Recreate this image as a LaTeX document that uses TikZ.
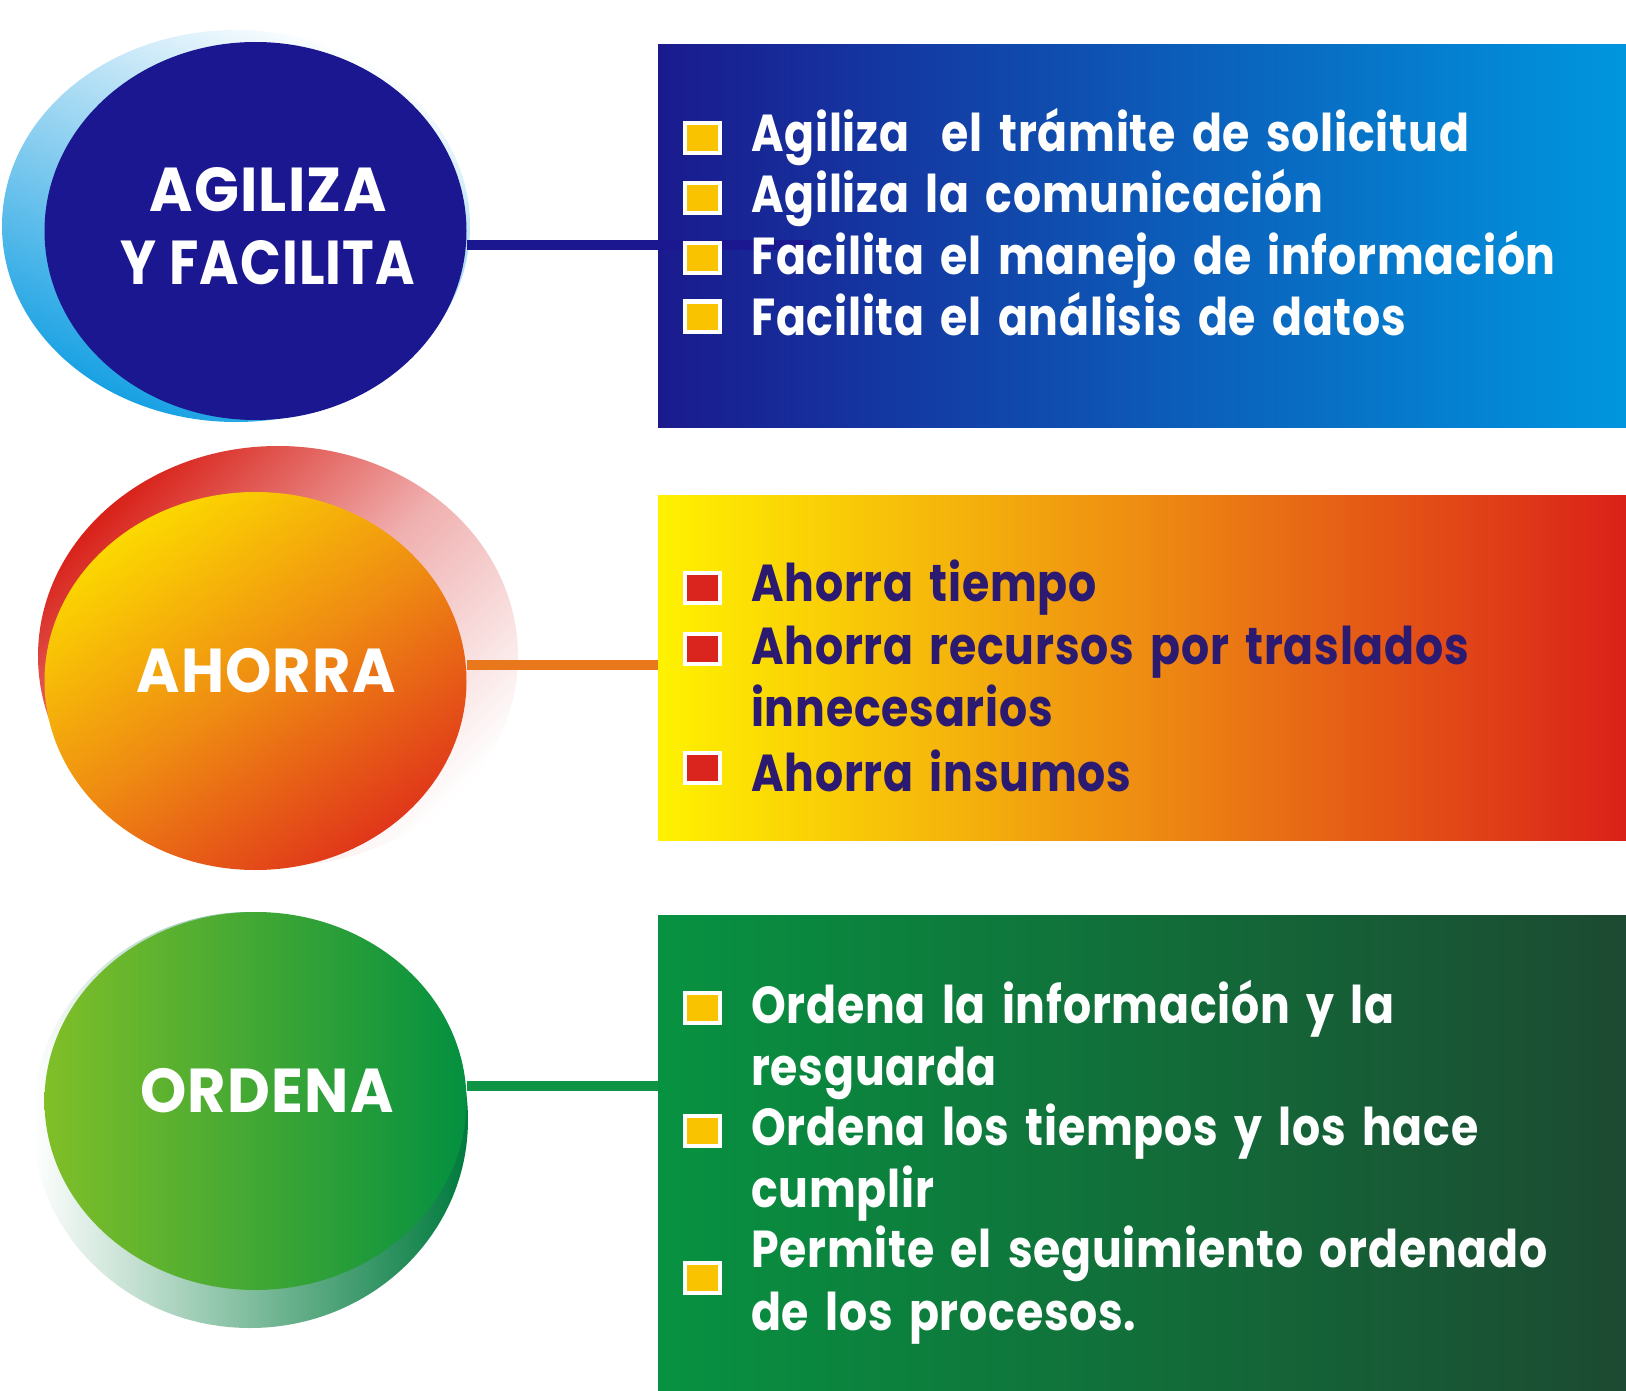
\documentclass[tikz,border=0pt]{standalone}
\usepackage{fontspec}
\usepackage{graphicx}
\usetikzlibrary{shapes.geometric}
\newfontfamily\bodyfont[FakeStretch=0.85, LetterSpace=1.5, WordSpace=1.6]{Poppins}
\newfontfamily\headfont[FakeStretch=0.95, LetterSpace=2]{Poppins}
\definecolor{navy}{HTML}{1B1790}
\definecolor{boxAL}{HTML}{1A1A8E}
\definecolor{boxAR}{HTML}{0096DE}
\definecolor{boxBL}{HTML}{FFF200}
\definecolor{boxBM}{HTML}{EE8C12}
\definecolor{boxBR}{HTML}{DA2119}
\definecolor{boxCL}{HTML}{079241}
\definecolor{boxCR}{HTML}{1C4A32}
\definecolor{txtnavy}{HTML}{2B1A70}
\definecolor{bulY}{HTML}{F9C300}
\definecolor{bulR}{HTML}{D9251D}
\definecolor{lineB}{HTML}{E9781C}
\definecolor{lineC}{HTML}{0E9444}
\definecolor{cBt}{HTML}{FCD900}
\definecolor{cBm}{HTML}{EF8C12}
\definecolor{cBb}{HTML}{E0361A}
\definecolor{cCl}{HTML}{80BF28}
\definecolor{cCr}{HTML}{039040}
\definecolor{shA}{HTML}{15A0E3}
\definecolor{shAm}{HTML}{8CCFF0}
\definecolor{shB}{HTML}{D82219}
\definecolor{shBm}{HTML}{F0B0B0}
\definecolor{shC}{HTML}{007A3D}
\tikzset{
  oval/.style={ellipse, inner sep=0pt, outer sep=0pt, draw=none},
  panel/.style={rectangle, anchor=north west, inner sep=0pt, outer sep=0pt, draw=none},
  bul/.style={rectangle, draw=white, line width=4pt, fill=#1, minimum width=35pt, minimum height=30pt, inner sep=0pt, outer sep=0pt},
  item/.style={anchor=base west, inner sep=0pt, font=\bodyfont\bfseries\fontsize{52}{60}\selectfont},
  head/.style={anchor=base, inner sep=0pt, text=white, font=\headfont\bfseries\fontsize{62}{70}\selectfont},
  conn/.style={line width=10pt}
}
\begin{document}
\begin{tikzpicture}[x=1pt,y=-1pt]
\useasboundingbox (0,0) rectangle (1626,1391);
\fill[white] (0,0) rectangle (1626,1391);

% shadows
\node[oval, minimum width=468pt, minimum height=392pt, top color=white, bottom color=shA, middle color=shAm, shading angle=-25] (s1) at (236,226) {};
\node[oval, minimum width=480pt, minimum height=420pt, top color=shB, bottom color=white, middle color=shBm, shading angle=45] (s2) at (278,656) {};
\node[oval, minimum width=436pt, minimum height=416pt, left color=white, right color=shC] (s3) at (250,1120) {};

% circles
\node[oval, minimum width=422pt, minimum height=378pt, fill=navy] (c1) at (255.5,231) {};
\node[oval, minimum width=422pt, minimum height=378pt, top color=cBt, bottom color=cBb, middle color=cBm, shading angle=35] (c2) at (255.5,681) {};
\node[oval, minimum width=422pt, minimum height=378pt, left color=cCl, right color=cCr] (c3) at (255.5,1101) {};

% panels
\node[panel, minimum width=968pt, minimum height=382pt, left color=boxAL, right color=boxAR] (b1) at (658,45) {};
\node[panel, minimum width=968pt, minimum height=345pt, left color=boxBL, right color=boxBR, middle color=boxBM] (b2) at (658,495) {};
\node[panel, minimum width=968pt, minimum height=476pt, left color=boxCL, right color=boxCR] (b3) at (658,915) {};

% connectors
\coordinate (y1) at (0,245);
\coordinate (y2) at (0,665);
\coordinate (y3) at (0,1086);
\coordinate (e1) at (812,245);
\draw[conn, navy] (c1.east |- y1) -- (e1);
\draw[conn, lineB] (c2.east |- y2) -- (b2.west |- y2);
\draw[conn, lineC] (c3.east |- y3) -- (b3.west |- y3);

% circle titles
\node[head] (t1a) at (268,212) {AGILIZA};
\node[head] (t1b) at (268,285) {\scalebox{0.91}[1]{Y FACILITA}};
\node[head] (t2) at (266,692) {AHORRA};
\node[head] (t3) at (267,1112) {ORDENA};

% bullets panel 1
\node[bul=bulY] (p1) at (702.5,138.3) {};
\node[bul=bulY] (p2) at (702.5,198.3) {};
\node[bul=bulY] (p3) at (702.5,258.3) {};
\node[bul=bulY] (p4) at (702.5,316.5) {};
\node[item, text=white] (i1) at (751,152) {Agiliza\ \ el trámite de solicitud};
\node[item, text=white] (i2) at (751,213) {Agiliza la comunicación};
\node[item, text=white] (i3) at (751,275) {Facilita el manejo de información};
\node[item, text=white] (i4) at (751,335) {Facilita el análisis de datos};

% bullets panel 2
\node[bul=bulR] (q1) at (702.5,588) {};
\node[bul=bulR] (q2) at (702.5,649) {};
\node[bul=bulR] (q3) at (702.5,768) {};
\node[item, text=txtnavy] (j1) at (751,601.5) {Ahorra tiempo};
\node[item, text=txtnavy] (j2) at (751,664) {Ahorra recursos por traslados};
\node[item, text=txtnavy] (j3) at (751,726) {innecesarios};
\node[item, text=txtnavy] (j4) at (751,791) {Ahorra insumos};

% bullets panel 3
\node[bul=bulY] (r1) at (702.5,1008) {};
\node[bul=bulY] (r2) at (702.5,1131) {};
\node[bul=bulY] (r3) at (702.5,1278) {};
\node[item, text=white] (k1) at (751,1023) {Ordena la información y la};
\node[item, text=white] (k2) at (751,1085) {resguarda};
\node[item, text=white] (k3) at (751,1145.5) {Ordena los tiempos y los hace};
\node[item, text=white] (k4) at (751,1207) {cumplir};
\node[item, text=white] (k5) at (751,1267) {Permite el seguimiento ordenado};
\node[item, text=white] (k6) at (751,1330) {de los procesos.};
\end{tikzpicture}
\end{document}
